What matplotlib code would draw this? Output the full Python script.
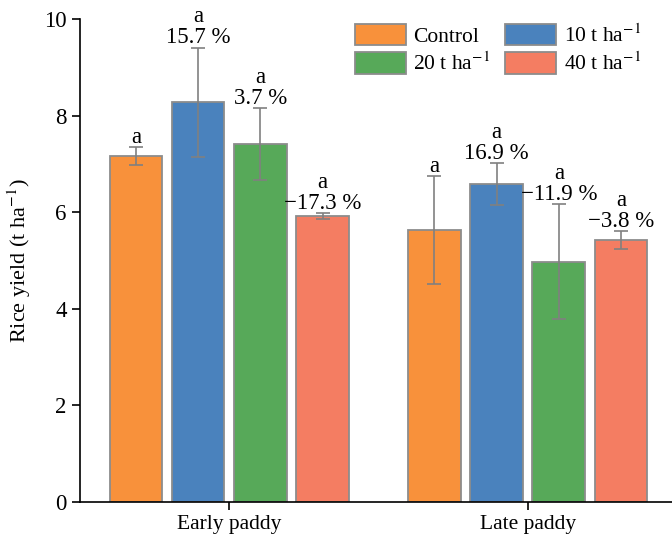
import matplotlib
matplotlib.use("Agg")
import matplotlib.pyplot as plt
import numpy as np

plt.rcParams['font.family'] = ['Liberation Serif', 'DejaVu Serif']
plt.rcParams['mathtext.fontset'] = 'stix'

groups = ["Early paddy", "Late paddy"]
treatments = ["Control", "10 t ha$^{\u22121}$", "20 t ha$^{\u22121}$", "40 t ha$^{\u22121}$"]
colors = ["#F8913B", "#4A82BD", "#57A959", "#F47D62"]
means = np.array([[7.16, 8.28, 7.41, 5.92],
                  [5.63, 6.58, 4.97, 5.42]])
errs = np.array([[0.19, 1.13, 0.75, 0.07],
                 [1.12, 0.44, 1.19, 0.19]])
letters = [["a", "a", "a", "a"], ["a", "a", "a", "a"]]
changes = [["", "15.7 %", "3.7 %", "\u221217.3 %"],
           ["", "16.9 %", "\u221211.9 %", "\u22123.8 %"]]

fig = plt.figure(figsize=(6.72, 5.4), dpi=100)
ax = fig.add_axes([0.119, 0.0704, 0.881, 0.8944])

centers = np.array([0.0, 1.2])
spacing = 0.25
width = 0.212
handles = []
for i in range(4):
    xs = centers + (i - 1.5) * spacing
    b = ax.bar(xs, means[:, i], width=width, color=colors[i], edgecolor="#8C8C8C",
               linewidth=1.3, label=treatments[i], zorder=2)
    handles.append(b)
    ax.errorbar(xs, means[:, i], yerr=errs[:, i], fmt="none", ecolor="#808080",
                elinewidth=1.2, capsize=5, capthick=1.2, zorder=3)
    for g in range(2):
        txt = letters[g][i] if changes[g][i] == "" else letters[g][i] + "\n" + changes[g][i]
        ax.text(xs[g], means[g, i] + errs[g, i] - 0.02, txt, ha="center", va="bottom",
                fontsize=16.5, linespacing=1.0)

ax.set_xlim(-0.6, 1.78)
ax.set_ylim(0, 10)
ax.set_xticks(centers)
ax.set_xticklabels(groups, fontsize=15.5)
ax.set_yticks([0, 2, 4, 6, 8, 10])
ax.tick_params(axis='y', labelsize=16.5, length=6, width=1.2, direction='out')
ax.tick_params(axis='x', labelsize=15.5, length=6, width=1.2, direction='out')
ax.set_ylabel("Rice yield (t ha$^{\u22121}$)", fontsize=16, labelpad=8)
for s in ["top", "right"]:
    ax.spines[s].set_visible(False)
for s in ["left", "bottom"]:
    ax.spines[s].set_linewidth(1.2)

order = [0, 2, 1, 3]
leg = ax.legend([handles[k] for k in order], [treatments[k] for k in order],
                ncol=2, loc="upper right", bbox_to_anchor=(0.98, 1.03), frameon=False,
                fontsize=15.5, handlelength=2.37, handleheight=1.15, columnspacing=0.7,
                handletextpad=0.33, labelspacing=0.25)

fig.savefig("out.png", dpi=100)
